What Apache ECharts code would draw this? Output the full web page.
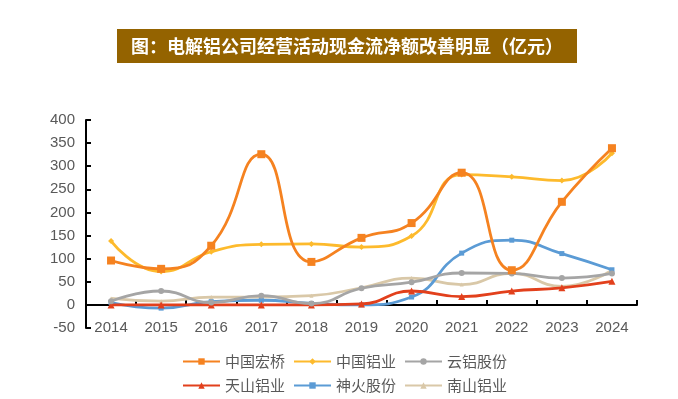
<!DOCTYPE html>
<html><head><meta charset="utf-8">
<script src="https://cdn.jsdelivr.net/npm/echarts@6/dist/echarts.min.js"></script>
<style>html,body{margin:0;padding:0;background:#fff}#c{width:678px;height:399px}</style>
</head><body><div id="c"></div>
<script>
var titleText = '图：电解铝公司经营活动现金流净额改善明显（亿元）';
var years = ['2014','2015','2016','2017','2018','2019','2020','2021','2022','2023','2024'];
var yTicks = [-50, 400, 50];
var hongqiao = [96, 78, 128, 326, 93, 145, 177, 286, 75, 223, 339];
var chalco = [138, 72, 115, 131, 132, 125, 149, 282, 277, 269, 328];
var yunlv = [8, 30, 5, 20, 3, 36, 49, 69, 68, 58, 68];
var tianshan = [0, 0, 0, 0, 0, 2, 30, 18, 30, 37, 51];
var shenhuo = [5, -7, 7, 10, 3, 0, 17, 112, 140, 111, 76];
var nanshan = [14, 8, 17, 17, 20, 37, 58, 44, 68, 40, 75];
var names = ['中国宏桥','中国铝业','云铝股份','天山铝业','神火股份','南山铝业'];

var colors = ['#F58220','#FDBA2C','#A5A5A5','#E2401C','#5B9BD5','#D9C8A8'];
var symbols = ['rect','diamond','circle','triangle','rect','triangle'];
var sizes = [8,6,6,7,5,4];
var datas = [hongqiao, chalco, yunlv, tianshan, shenhuo, nanshan];

var series = datas.map(function(d,i){
  return {name:names[i], type:'line', data:d, smooth:0.5, xAxisIndex:0,
    symbol:symbols[i], symbolSize:sizes[i], showSymbol:true,
    lineStyle:{width:2.8,color:colors[i]}, itemStyle:{color:colors[i]}, z: 10 - i};
});
var chart = echarts.init(document.getElementById('c'));
var legendBase = {orient:'horizontal', itemWidth:37, itemHeight:8, itemGap:8, padding:0,
  textStyle:{fontSize:15, color:'#595959', fontFamily:'Noto Sans CJK SC'}};
chart.setOption({
  animation:false,
  backgroundColor:'#fff',
  title:{text:titleText, left:117, top:29, backgroundColor:'#946300', padding:[8,14,8,14],
    textStyle:{color:'#fff', fontSize:18, fontWeight:'bold', fontFamily:'Noto Sans CJK SC'}},
  legend:[
    Object.assign({}, legendBase, {data:names.slice(0,3), left:182, top:354}),
    Object.assign({}, legendBase, {data:names.slice(3,6), left:182, top:378})
  ],
  grid:{left:86, right:41, top:120, bottom:71},
  xAxis:[
    {type:'category', data:years, boundaryGap:true,
     axisLine:{onZero:true, lineStyle:{color:'#000', width:2}},
     axisTick:{show:true, inside:true, length:5, lineStyle:{color:'#000', width:2}},
     axisLabel:{show:false}},
    {type:'category', data:years, boundaryGap:true, position:'bottom',
     axisLine:{show:false, onZero:false}, axisTick:{show:false},
     axisLabel:{fontSize:15, color:'#595959', margin:-8, fontFamily:'Liberation Sans'}}
  ],
  yAxis:{type:'value', min:yTicks[0], max:yTicks[1], interval:yTicks[2],
    axisLine:{show:true, lineStyle:{color:'#000', width:2}},
    axisTick:{show:true, inside:true, length:5, lineStyle:{color:'#000', width:2}},
    splitLine:{show:false},
    axisLabel:{fontSize:15, color:'#595959', margin:11, fontFamily:'Liberation Sans'}},
  series:series
});
</script></body></html>
